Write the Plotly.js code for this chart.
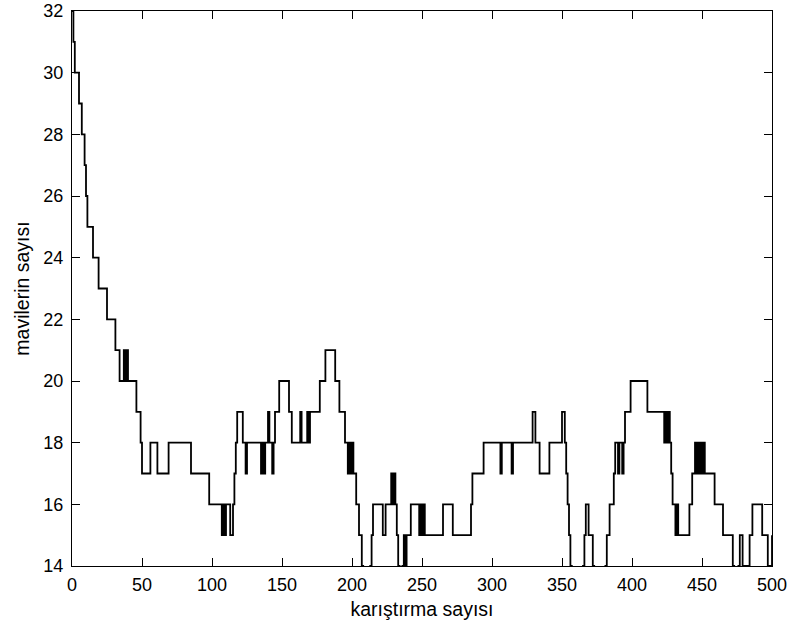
<!DOCTYPE html>
<html>
<head>
<meta charset="utf-8">
<script src="https://cdn.plot.ly/plotly-3.0.1.min.js"></script>
<style>html,body{margin:0;padding:0;background:#fff;}#chart{width:792px;height:630px;}</style>
</head>
<body>
<div id="chart"></div>
<script>
// Step positions (mixing count) where the number of blues changes, and the level from there on
const stepX = [0,1,2,5,7,9,10,11,15,19,25,31,34,37,38,39,40,46,49,50,56,61,69,85,98,
  107,108,109,110,113,115,116,117,118,122,124,125,135,136,137,138,140,141,143,144,145,148,155,157,163,164,168,169,170,177,181,188,191,195,197,198,199,200,201,203,205,207,208,213,214,215,222,224,228,229,230,231,232,233,234,236,237,238,239,242,248,249,250,251,252,
  265,272,285,286,294,306,307,314,315,329,331,334,341,350,352,353,354,355,356,357,365,366,367,369,372,373,381,382,384,387,388,390,391,393,394,395,399,
  411,423,424,425,426,427,428,429,431,432,433,441,443,445,446,447,448,449,450,451,452,459,465,472,473,476,477,479,481,482,484,486,493,497,498,499,500];
const stepY = [32,31,30,29,28,27,26,25,24,23,22,21,20,21,20,21,20,19,18,17,18,17,18,17,16,
  15,16,15,16,15,16,17,18,19,18,17,18,17,18,17,18,19,18,17,18,19,20,19,18,19,18,19,18,19,20,21,20,19,18,17,18,17,18,17,16,15,14,13,14,15,16,15,16,17,16,17,16,15,14,13,14,15,14,15,16,15,16,15,16,15,
  16,15,16,17,18,17,18,17,18,19,18,17,18,19,18,17,16,15,14,13,14,15,16,15,14,13,14,15,16,17,18,17,18,17,18,19,20,
  19,18,19,18,19,18,17,16,15,16,15,16,17,18,17,18,17,18,17,18,17,16,15,14,13,14,15,14,13,14,15,16,15,14,13,14,15];
const xTicks = [0,50,100,150,200,250,300,350,400,450,500];
const yTicks = [14,16,18,20,22,24,26,28,30,32];
const xLabel = 'karıştırma sayısı';
const yLabel = 'mavilerin sayısı';

const fontFam = '"Liberation Sans", Arial, Helvetica, sans-serif';

const trace = {
  x: stepX, y: stepY, type: 'scatter', mode: 'lines',
  line: {shape: 'hv', color: '#000', width: 1.8},
  hoverinfo: 'skip'
};

const axisCommon = {
  showgrid: false, zeroline: false, showline: true, linecolor: '#000', linewidth: 1,
  mirror: 'ticks', ticks: 'inside', ticklen: 8, tickcolor: '#000', tickwidth: 1,
  ticklabeloverflow: 'allow',
  tickfont: {family: fontFam, size: 18, color: '#000'}
};

const layout = {
  width: 792, height: 630,
  margin: {l: 72, r: 20, t: 11, b: 64},
  paper_bgcolor: '#fff', plot_bgcolor: '#fff',
  showlegend: false,
  xaxis: Object.assign({}, axisCommon, {
    range: [0, 500], tickvals: xTicks, ticktext: xTicks.map(String), ticklabelstandoff: 2,
    title: {text: xLabel, font: {family: fontFam, size: 19.5, color: '#000'}, standoff: 8}
  }),
  yaxis: Object.assign({}, axisCommon, {
    range: [14, 32], tickvals: yTicks, ticktext: yTicks.map(String), ticklabelstandoff: 4,
    title: {text: yLabel, font: {family: fontFam, size: 19.5, color: '#000'}, standoff: 8}
  })
};

Plotly.newPlot('chart', [trace], layout, {staticPlot: true, displayModeBar: false});
</script>
</body>
</html>
